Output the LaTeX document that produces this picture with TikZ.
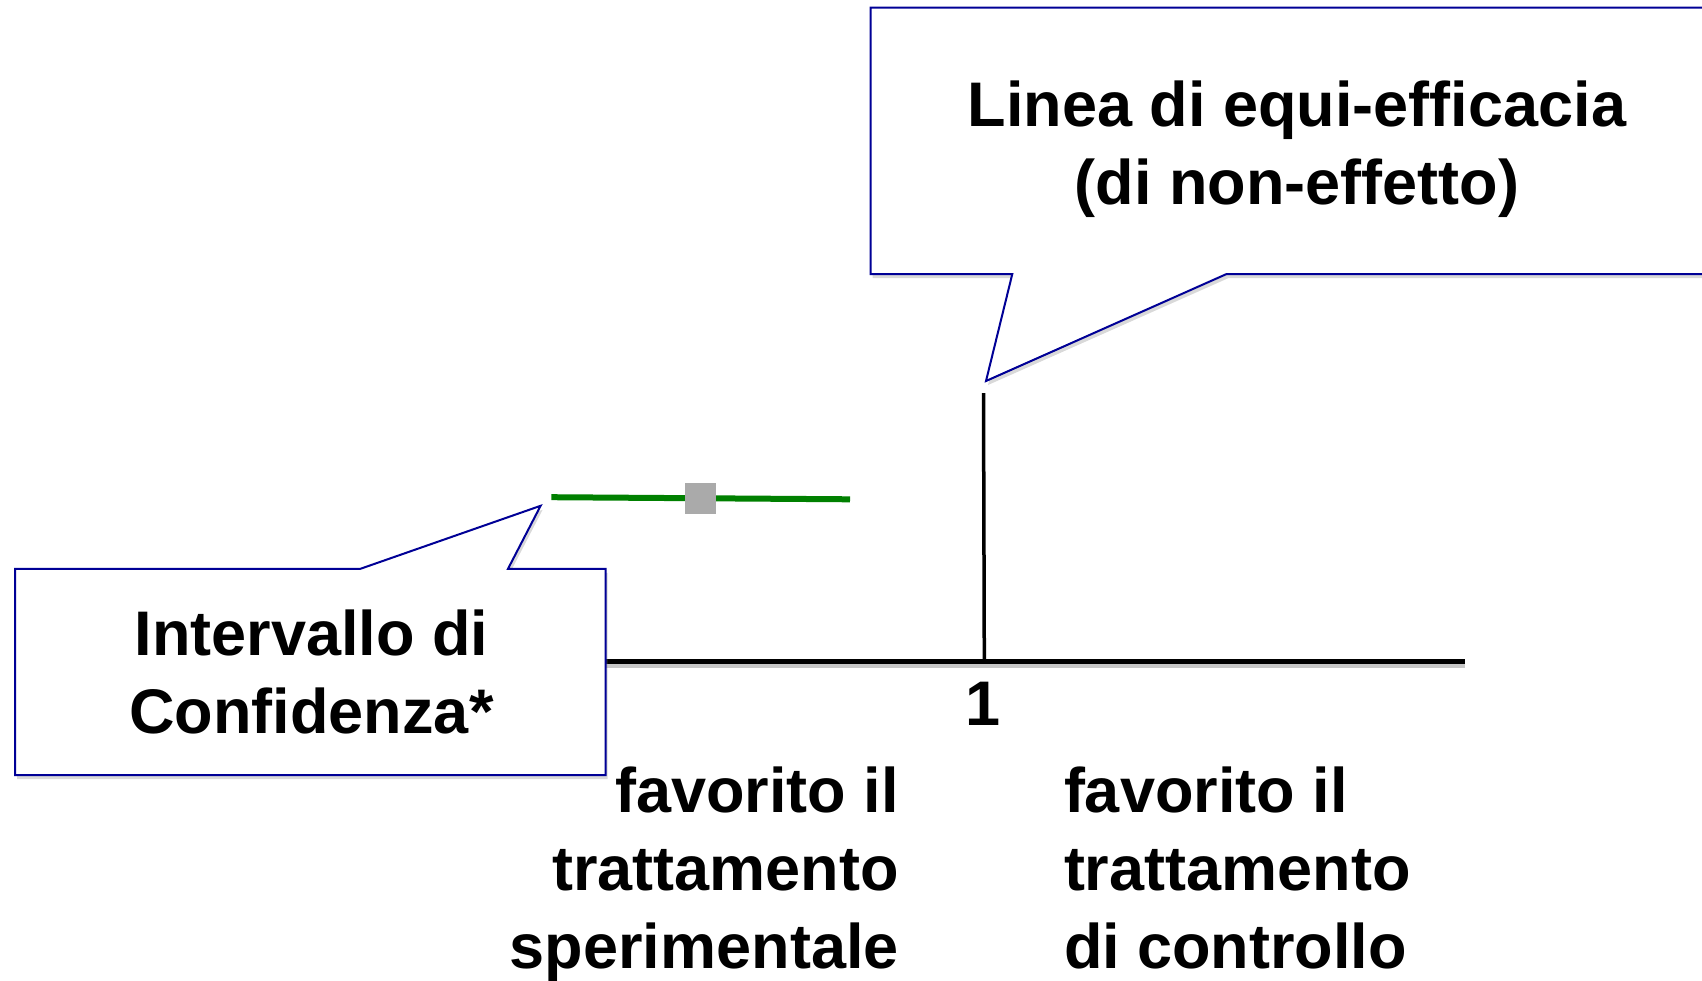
\documentclass[tikz,border=0pt]{standalone}
\usepackage{fontspec}
\setmainfont{Liberation Sans}
\usetikzlibrary{shadows}
\definecolor{calloutblue}{RGB}{0,0,150}
\definecolor{cigreen}{RGB}{0,128,0}
\definecolor{pointgray}{RGB}{170,170,170}
\tikzset{
  callout/.style={draw=calloutblue, line width=2pt, fill=white, line join=miter,
    drop shadow={shadow xshift=2pt, shadow yshift=-4pt, opacity=0.3}},
  lbl/.style={font=\fontsize{63}{78}\selectfont\bfseries, inner sep=0pt},
  axisline/.style={line width=5pt, black},
  axisshadow/.style={line width=5pt, black!22},
}
\begin{document}
\begin{tikzpicture}[x=1pt,y=-1pt]
\useasboundingbox (0,0) rectangle (1702,980);
\clip (0,0) rectangle (1702,980);
% coordinates
\coordinate (axL) at (560,661.3);
\coordinate (axR) at (1465,661.3);
\coordinate (vtop) at (983.5,393);
\coordinate (vbot) at (984.3,659);
\coordinate (ciL) at (551.4,497.2);
\coordinate (ciR) at (850,499.3);
% axis
\draw[axisshadow] ([yshift=-4pt]axL) -- ([yshift=-4pt]axR);
\draw[axisline] (axL) -- (axR);
\draw[line width=3.5pt] (vtop) -- (vbot);
% confidence interval
\draw[cigreen, line width=6pt] (ciL) -- (ciR);
\node[fill=pointgray, minimum size=31pt, inner sep=0pt] (pt) at (700.3,498.2) {};
% top callout
\draw[callout] (870.7,7.6) -- (1712,7.6) -- (1712,274) -- (1226.6,274)
  -- (986,381) coordinate (tipA) -- (1012.3,274) -- (870.7,274) -- cycle;
\node[lbl, align=center] (lineaLbl) at (1297,149) {Linea di equi-efficacia\\(di non-effetto)};
% bottom callout
\draw[callout] (15.2,568.8) -- (360.4,568.8) -- (540.6,505.8) coordinate (tipB)
  -- (508,568.8) -- (605.7,568.8) -- (605.7,775) -- (15.2,775) -- cycle;
\node[lbl, align=center] (ciLbl) at (311.5,672) {Intervallo di\\Confidenza*};
% labels
\node[lbl] (one) at (983.5,703.4) {1};
\node[lbl, align=right, anchor=east] (leftLbl) at (898.8,874) {favorito il\\trattamento\\sperimentale};
\path (leftLbl.north east) ++(165,0) node[lbl, align=left, anchor=north west] (rightLbl) {favorito il\\trattamento\\di controllo};
\end{tikzpicture}
\end{document}
